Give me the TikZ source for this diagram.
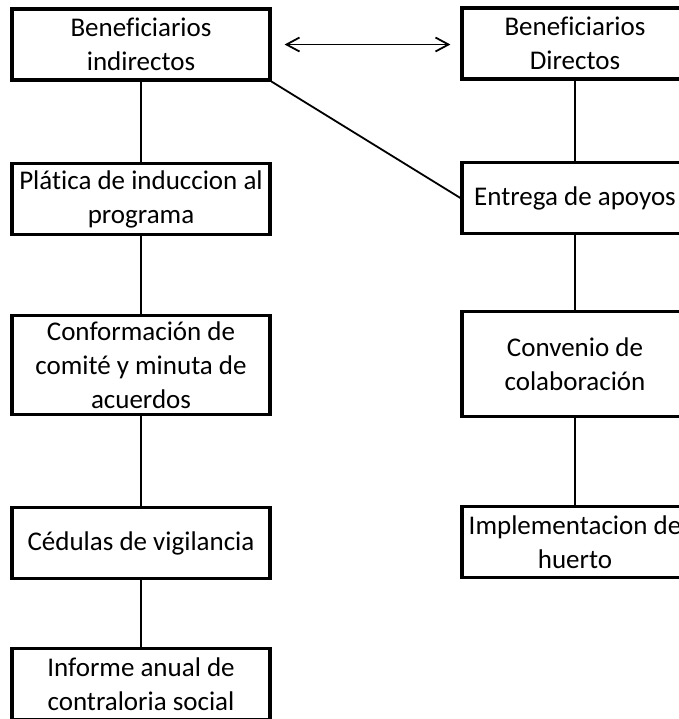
\documentclass[tikz,border=0pt]{standalone}
\usepackage{fontspec}
\setmainfont[Ligatures={NoCommon,NoContextual}]{Carlito}
\usetikzlibrary{shapes, positioning, arrows, arrows.meta, trees}

\begin{document}
\begin{tikzpicture}[
      every node/.style={font=\fontsize{13.5}{17}\selectfont},
      caja/.style={draw, line width=1.6pt, align=center, inner sep=3pt, minimum height=35.5pt},
      izq/.style={caja, minimum width=129pt},
      der/.style={caja, minimum width=113pt},
      level 1/.style={level distance=77.25pt},
      level 2/.style={level distance=83pt},
      level 3/.style={level distance=89pt},
      level 4/.style={level distance=70.5pt},
      edge from parent/.style={draw, line width=0.9pt},
      edge from parent path={(\tikzparentnode.south) -- (\tikzchildnode.north)}
    ]
    \useasboundingbox (0,0) rectangle (339.5pt,-359.5pt);
    \node[izq] (bi) at (70.5pt,-22.25pt) {Beneficiarios\\indirectos}
      child {
        node[izq] (pi) {Plática de induccion al\\programa}
        child {
          node[izq] (cc) {Conformación de\\comité y minuta de\\acuerdos}
          child {
            node[izq] (cv) {Cédulas de vigilancia}
            child {node[izq] (ia) {Informe anual de\\contraloria social}}
          }
        }
      };
    \node[der] (bd) at (287.5pt,-21.75pt) {Beneficiarios\\Directos}
      child {
        node[der] (ea) {Entrega de apoyos}
        child {
          node[der, minimum height=52.5pt] (co) {Convenio de\\colaboración}
          child {node[der] (ih) {Implementacion de\\huerto}}
        }
      };
    \draw[{Straight Barb[length=6.5pt,width=7pt]}-{Straight Barb[length=6.5pt,width=7pt]}, line width=0.9pt, shorten <=6.5pt, shorten >=5pt]
      (bi.east) -- (bi.east -| bd.west);
    \draw[line width=0.9pt] (bi.south east) -- (ea.west);
\end{tikzpicture}
\end{document}
